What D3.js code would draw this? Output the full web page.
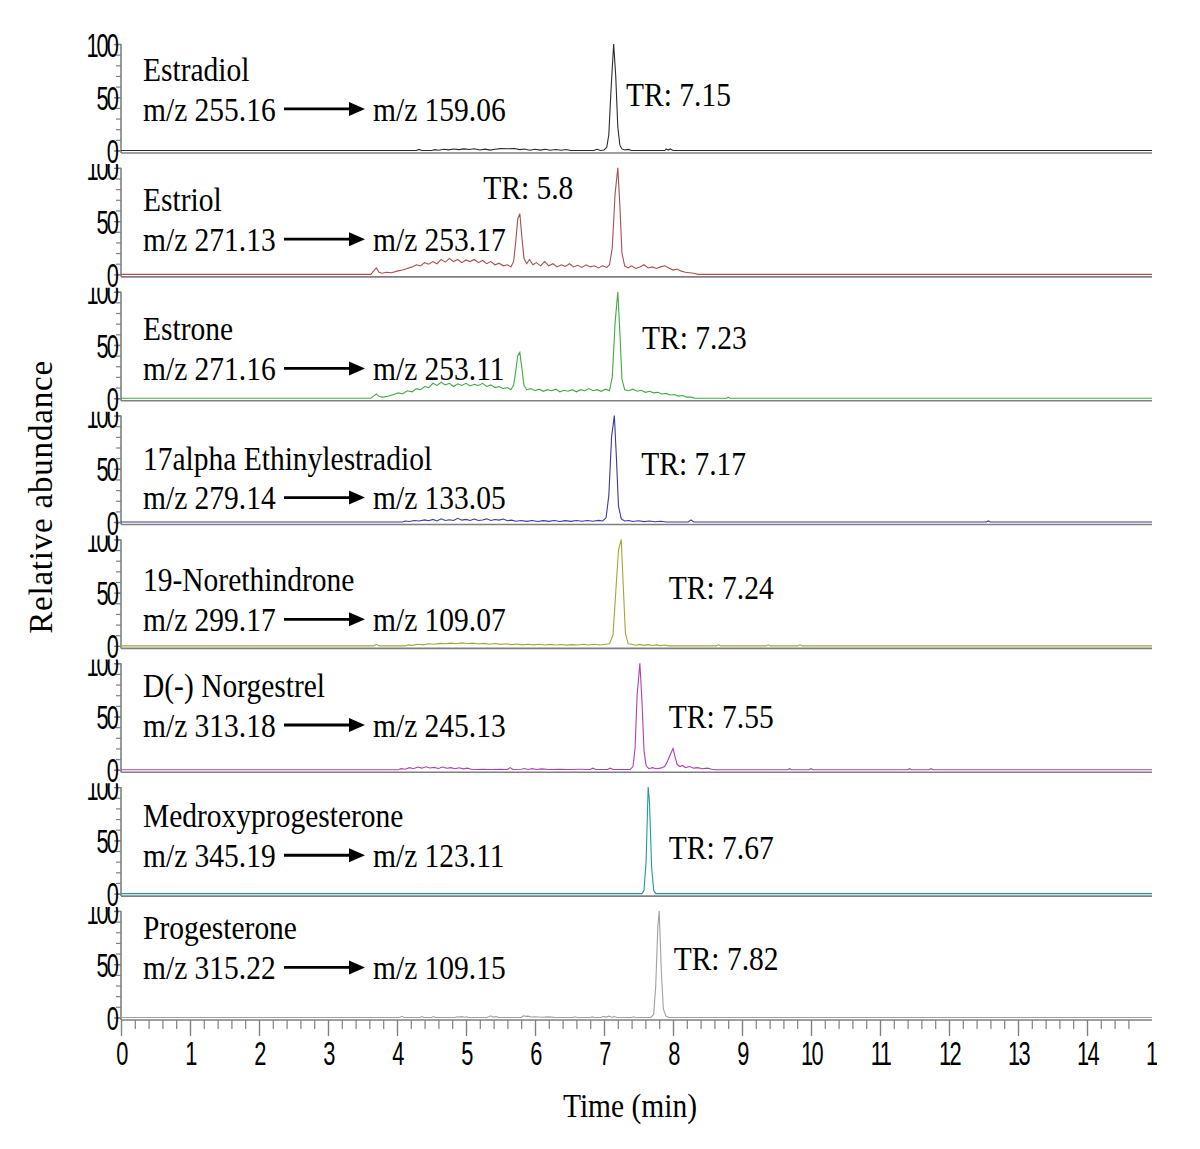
<!DOCTYPE html>
<html><head><meta charset="utf-8">
<script src="https://cdn.jsdelivr.net/npm/d3@7"></script>
<style>body{margin:0;background:#fff}</style>
</head><body>
<svg id="chart" width="1200" height="1149"></svg>
<script>
// ---------- data ----------
const compounds = ["Estradiol","Estriol","Estrone","17alpha Ethinylestradiol","19-Norethindrone","D(-) Norgestrel","Medroxyprogesterone","Progesterone"];
const precursorIons = ["m/z 255.16","m/z 271.13","m/z 271.16","m/z 279.14","m/z 299.17","m/z 313.18","m/z 345.19","m/z 315.22"];
const productIons = ["m/z 159.06","m/z 253.17","m/z 253.11","m/z 133.05","m/z 109.07","m/z 245.13","m/z 123.11","m/z 109.15"];
const retentionLabels = ["TR: 7.15","TR: 5.8","TR: 7.23","TR: 7.17","TR: 7.24","TR: 7.55","TR: 7.67","TR: 7.82"];
const xTickLabels = [0,1,2,3,4,5,6,7,8,9,10,11,12,13,14,15];
const yTickLabels = [0,50,100];

// traces: [time (min), relative abundance (%)]
const estradiolTrace = [[0,0],[4.28,0],[4.32,1],[4.36,0],[4.5,0],[4.55,0.8],[4.6,0.3],[4.68,1.2],[4.75,0.6],[4.82,1.4],[4.9,0.8],[4.97,1.5],[5.05,0.9],[5.12,1.6],[5.2,0.5],[5.28,1.3],[5.35,0.4],[5.42,1.1],[5.5,1.8],[5.6,1.6],[5.7,1.9],[5.78,0.8],[5.85,1.4],[5.92,0.3],[6.0,1.2],[6.08,0.4],[6.15,1.1],[6.22,0.2],[6.3,1.0],[6.38,0.3],[6.45,1.0],[6.52,0],[6.85,0],[6.9,1.2],[6.95,0],[7.0,0.5],[7.04,3],[7.07,15],[7.1,55],[7.14,100],[7.17,70],[7.2,22],[7.23,5],[7.26,1.5],[7.3,0.5],[7.35,1],[7.4,0],[7.88,0],[7.9,1.5],[7.93,0.4],[7.96,1.5],[8.0,0],[15,0]];
const estriolTrace = [[0,0],[3.62,0],[3.66,3],[3.7,6],[3.74,2],[3.78,1],[3.85,2],[3.92,1.5],[4.0,3],[4.08,4],[4.15,5.5],[4.22,7],[4.28,9],[4.34,8],[4.4,11],[4.46,9.5],[4.52,12],[4.58,10],[4.64,14],[4.7,11.5],[4.76,15],[4.82,12],[4.88,14],[4.94,11],[5.0,13.5],[5.06,12],[5.12,14],[5.18,11],[5.24,13],[5.3,10],[5.36,12],[5.42,9],[5.48,10.5],[5.54,8],[5.6,9],[5.65,7],[5.69,12],[5.72,30],[5.75,52],[5.78,57],[5.81,35],[5.84,15],[5.88,10],[5.92,14],[5.97,9],[6.02,11],[6.08,8],[6.14,12],[6.2,8],[6.26,10],[6.32,7],[6.38,9],[6.44,7.5],[6.5,10],[6.56,7],[6.62,8.5],[6.68,6.5],[6.74,9],[6.8,7],[6.86,8],[6.92,6],[6.98,8],[7.04,6.5],[7.08,9],[7.12,25],[7.16,75],[7.2,100],[7.23,65],[7.26,20],[7.3,8],[7.35,6],[7.4,8],[7.46,5.5],[7.52,7],[7.58,9],[7.64,6],[7.7,7],[7.76,5.5],[7.82,7],[7.88,8],[7.94,6],[8.0,4],[8.06,5],[8.12,3],[8.18,2],[8.24,1.5],[8.3,1],[8.36,0],[15,0]];
const estroneTrace = [[0,0],[3.62,0],[3.66,2],[3.7,4],[3.74,1.5],[3.8,1],[3.88,2],[3.95,3.5],[4.02,5],[4.08,4],[4.15,7],[4.22,6],[4.28,9],[4.34,8],[4.4,11],[4.46,10],[4.52,14],[4.58,12],[4.64,15],[4.7,12.5],[4.76,14],[4.82,11],[4.88,13.5],[4.94,12],[5.0,14],[5.06,11.5],[5.12,13],[5.18,12],[5.24,14],[5.3,11],[5.36,12.5],[5.42,10],[5.48,11],[5.54,9],[5.6,10],[5.65,8],[5.69,12],[5.72,25],[5.75,40],[5.78,43],[5.81,28],[5.84,12],[5.88,8],[5.94,9],[6.0,7],[6.06,8.5],[6.12,6.5],[6.18,8],[6.24,7],[6.3,8.5],[6.36,6],[6.42,7.5],[6.48,6.5],[6.54,8],[6.6,6],[6.66,8],[6.72,7],[6.78,9],[6.84,7],[6.9,8],[6.96,6.5],[7.02,8.5],[7.08,7],[7.12,20],[7.16,70],[7.2,100],[7.23,62],[7.26,18],[7.3,8],[7.36,7],[7.42,8.5],[7.48,6.5],[7.54,7.5],[7.6,5.5],[7.66,6.5],[7.72,5],[7.78,5.5],[7.84,4],[7.9,4.5],[7.96,3],[8.02,3.5],[8.08,2],[8.14,2.5],[8.2,1],[8.26,1],[8.32,0],[8.78,0],[8.8,1],[8.82,0],[15,0]];
const ethinylestradiolTrace = [[0,0],[4.08,0],[4.12,1],[4.18,0.5],[4.25,1.5],[4.32,1],[4.4,2],[4.46,1.2],[4.52,2.5],[4.58,1],[4.64,3],[4.7,1.5],[4.76,2.2],[4.82,1.5],[4.88,3.5],[4.94,1.8],[5.0,2.5],[5.06,1.5],[5.12,2.8],[5.18,1.4],[5.24,2],[5.3,3],[5.36,1.5],[5.42,2.4],[5.48,1.8],[5.54,2.8],[5.6,1.2],[5.66,1.8],[5.72,0.8],[5.8,1.5],[5.88,0.6],[5.96,1.4],[6.04,0.5],[6.12,1.3],[6.2,0.6],[6.28,1.4],[6.36,0.5],[6.44,1.3],[6.52,0.6],[6.6,1.4],[6.68,0.8],[6.76,1.5],[6.84,0.8],[6.92,1.6],[6.98,1],[7.03,4],[7.07,25],[7.11,80],[7.15,100],[7.18,60],[7.21,15],[7.25,3],[7.3,1],[7.36,1.5],[7.42,0.5],[7.5,1.2],[7.58,0.4],[7.66,1],[7.74,0.3],[7.82,0.8],[7.9,0],[8.22,0],[8.26,2],[8.3,0],[12.54,0],[12.57,1],[12.6,0],[15,0]];
const norethindroneTrace = [[0,0],[3.66,0],[3.7,1.5],[3.74,0],[4.12,0],[4.16,1],[4.22,0.5],[4.3,1.5],[4.38,1],[4.46,2],[4.54,1.6],[4.62,2.4],[4.7,2],[4.78,2.6],[4.86,2],[4.94,2.8],[5.02,2.2],[5.1,2.6],[5.18,1.8],[5.26,2.4],[5.34,1.6],[5.42,2.2],[5.5,1.4],[5.58,2],[5.66,1.2],[5.74,1.8],[5.82,1],[5.9,1.6],[5.98,1],[6.06,1.5],[6.14,0.8],[6.22,1.4],[6.3,0.8],[6.38,1.3],[6.46,0.7],[6.54,1.2],[6.62,0.8],[6.7,1.5],[6.78,0.9],[6.86,1.6],[6.94,0.8],[7.02,1.5],[7.08,2],[7.13,10],[7.17,50],[7.21,90],[7.25,100],[7.28,55],[7.31,12],[7.35,2],[7.4,1.5],[7.46,0.6],[7.52,1.4],[7.58,0.5],[7.64,1.2],[7.7,0.4],[7.76,1],[7.82,0.3],[7.88,0.8],[7.94,0],[8.63,0],[8.66,1.2],[8.69,0],[9.35,0],[9.38,1],[9.41,0],[9.81,0],[9.84,1],[9.87,0],[15,0]];
const norgestrelTrace = [[0,0],[4.02,0],[4.06,1],[4.12,0.5],[4.18,2],[4.24,1],[4.3,2.5],[4.36,1.5],[4.42,2.8],[4.48,1.6],[4.54,2.2],[4.6,1.2],[4.66,2.6],[4.72,1.4],[4.78,2],[4.84,1],[4.9,1.8],[4.96,0.8],[5.02,1.5],[5.08,0.5],[5.15,0.3],[5.25,0.5],[5.35,0.3],[5.5,0.4],[5.6,0.2],[5.64,2],[5.68,0.2],[5.8,0.4],[5.85,1.2],[5.9,0.3],[5.96,1],[6.02,0.2],[6.1,0.8],[6.2,0.3],[6.35,0.5],[6.5,0.3],[6.65,0.4],[6.8,0.3],[6.84,1.5],[6.88,0.3],[7.05,0.3],[7.09,1.5],[7.13,0.3],[7.38,0.3],[7.42,3],[7.45,20],[7.48,70],[7.52,100],[7.55,65],[7.58,18],[7.61,4],[7.65,1],[7.7,2],[7.76,1],[7.82,1.5],[7.88,3],[7.92,8],[7.96,14],[8.0,20],[8.03,12],[8.06,5],[8.1,3],[8.14,4],[8.18,2],[8.24,3],[8.3,1.5],[8.36,2],[8.42,1],[8.5,1.5],[8.56,0.5],[8.62,0],[9.66,0],[9.69,1],[9.72,0],[9.97,0],[10.0,1],[10.03,0],[11.4,0],[11.43,1],[11.46,0],[11.71,0],[11.74,1],[11.77,0],[15,0]];
const medroxyprogesteroneTrace = [[0,0],[7.55,0],[7.58,3],[7.61,30],[7.64,100],[7.66,85],[7.69,25],[7.72,3],[7.75,0],[15,0]];
const progesteroneTrace = [[0,0],[4.04,0],[4.07,1],[4.1,0],[4.33,0],[4.36,0.8],[4.39,0],[4.5,0],[4.53,0.8],[4.56,0],[4.84,0],[4.87,0.6],[4.9,0.3],[4.94,0.8],[4.98,0.2],[5.01,0.7],[5.04,0],[5.3,0],[5.33,0.6],[5.36,1.5],[5.39,0.3],[5.44,0.8],[5.47,0],[5.8,0],[5.83,1.6],[5.87,1],[5.9,1.2],[5.94,0.4],[6.0,0.6],[6.1,0.2],[6.2,0.5],[6.3,0],[6.55,0],[6.58,0.6],[6.61,0],[6.8,0],[6.83,0.5],[6.86,0],[6.96,0],[6.99,1],[7.03,0.3],[7.07,1.2],[7.11,0.2],[7.15,0.8],[7.19,0],[7.4,0],[7.43,0.6],[7.46,0],[7.68,0],[7.72,3],[7.75,30],[7.78,85],[7.8,100],[7.83,45],[7.86,8],[7.9,1],[7.94,0],[15,0]];
const traces = [estradiolTrace, estriolTrace, estroneTrace, ethinylestradiolTrace, norethindroneTrace, norgestrelTrace, medroxyprogesteroneTrace, progesteroneTrace];

// ---------- layout / style (kept apart from data) ----------
const traceColors = ["#2b2b2b","#a94f4f","#45a845","#3a3aa0","#a6a636","#b040b0","#1c9c9c","#a0a0a0"];
const titleLevel = [76,71,66,60,63,79,74,85];   // label centre, in panel % units
const ionLevel   = [39,33,28,23,25,42,36,47];
const trTime     = [7.32,5.25,7.55,7.54,7.94,7.94,7.94,8.01];
const trLevel    = [53,82,57,55,55,50,44,56];

const W = 1200, H = 1149;
const svg = d3.select("#chart");
const x = d3.scaleLinear().domain([0, 15]).range([121, 1156]);
const firstBase = 152, step = 123.85, panelH = 108;
const axisColor = "#808080";
const serif = "'Liberation Serif','Times New Roman',serif";
const sans = "'Liberation Sans',Arial,sans-serif";
const xEnd = 1152;
const tickFont = 28, sx = 0.78, sy = 1.2;

const defs = svg.append("defs");
defs.append("clipPath").attr("id","plotClip").append("rect")
  .attr("x",121).attr("y",0).attr("width",xEnd-121).attr("height",H);
defs.append("clipPath").attr("id","figClip").append("rect")
  .attr("x",0).attr("y",0).attr("width",1157).attr("height",H);

const root = svg.append("g").attr("clip-path","url(#figClip)");

function stretchedText(g, str, px, py, size, anchor) {
  return g.append("text")
    .attr("transform", `translate(${px},${py}) scale(1,1.17)`)
    .attr("dominant-baseline","central")
    .attr("text-anchor", anchor || "start")
    .style("font-family", serif).style("font-size", size + "px")
    .attr("fill","#000").text(str);
}

traces.forEach((tr, i) => {
  const B = firstBase + i * step;
  const y = d3.scaleLinear().domain([0, 100]).range([B - 1.5, B - panelH]);
  const g = root.append("g");

  // label clip so the "100" label is partly hidden by the panel above
  const clipId = "lab" + i;
  const top = i === 0 ? 0 : (B - step + 12);
  defs.append("clipPath").attr("id", clipId).append("rect")
    .attr("x", 0).attr("width", 125)
    .attr("y", top).attr("height", B + 20 - top);

  // baseline axis line
  g.append("line").attr("x1", 121).attr("x2", xEnd).attr("y1", B + 1).attr("y2", B + 1)
    .attr("stroke", axisColor).attr("stroke-width", 1.6);

  // y axis minor
  const yMinor = d3.axisLeft(y).tickValues(d3.range(0, 101, 10)).tickSize(5).tickSizeOuter(0).tickFormat("");
  const gm = g.append("g").attr("transform", "translate(121,0)").call(yMinor);
  gm.select(".domain").remove();
  gm.selectAll("line").attr("stroke", axisColor).attr("stroke-width", 1.2);
  // y axis major (wrapped in an untransformed group that carries the clip)
  const wrap = g.append("g").attr("clip-path", `url(#${clipId})`);
  const yMajor = d3.axisLeft(y).tickValues(yTickLabels).tickSize(7).tickSizeOuter(0).tickPadding(0);
  const gM = wrap.append("g").attr("transform", "translate(121,0)").call(yMajor);
  gM.select(".domain").remove();
  gM.selectAll("line").attr("stroke", axisColor).attr("stroke-width", 1.4);
  gM.selectAll("text")
    .attr("x", -4 / sx).attr("dy", "0.36em")
    .attr("transform", `scale(${sx},${sy})`)
    .style("font-family", sans).style("font-size", tickFont + "px").style("letter-spacing", "-2.5px")
    .attr("fill", "#000");
  // y axis vertical line
  g.append("line").attr("x1", 121).attr("x2", 121).attr("y1", B + 1).attr("y2", B - panelH)
    .attr("stroke", axisColor).attr("stroke-width", 1.6);

  // trace
  const line = d3.line().x(d => x(d[0])).y(d => y(d[1]));
  g.append("path").datum(tr).attr("d", line)
    .attr("fill", "none").attr("stroke", traceColors[i]).attr("stroke-width", 1.1)
    .attr("clip-path", "url(#plotClip)");

  // annotations
  stretchedText(g, compounds[i], 143, y(titleLevel[i]), 29.5);
  const iy = y(ionLevel[i]);
  stretchedText(g, precursorIons[i], 143, iy, 29.5);
  g.append("line").attr("x1", 284).attr("x2", 352).attr("y1", iy).attr("y2", iy)
    .attr("stroke", "#000").attr("stroke-width", 2.8);
  g.append("path").attr("d", `M349,${iy - 7}L365,${iy}L349,${iy + 7}Z`).attr("fill", "#000");
  stretchedText(g, productIons[i], 373, iy, 29.5);
  stretchedText(g, retentionLabels[i], x(trTime[i]), y(trLevel[i]), 29.5);

  // bottom time axis on last panel
  if (i === traces.length - 1) {
    const minorVals = d3.range(0, 74).map(k => k * 0.2).filter(v => Math.abs(v - Math.round(v)) > 1e-6);
    const xMinor = d3.axisBottom(x).tickValues(minorVals).tickSize(9).tickSizeOuter(0).tickFormat("");
    const gx = g.append("g").attr("transform", `translate(0,${B + 1})`).call(xMinor);
    gx.select(".domain").remove();
    gx.selectAll("line").attr("stroke", axisColor).attr("stroke-width", 1.2);
    const xMajor = d3.axisBottom(x).tickValues(xTickLabels).tickSize(16).tickSizeOuter(0).tickPadding(0);
    const gX = g.append("g").attr("transform", `translate(0,${B + 1})`).call(xMajor);
    gX.select(".domain").remove();
    gX.selectAll("line").attr("stroke", axisColor).attr("stroke-width", 1.4)
      .attr("opacity", d => d >= 15 ? 0 : 1);
    gX.selectAll("text")
      .attr("y", 33 / sy).attr("dy", "0.36em")
      .attr("transform", `scale(${sx},${sy})`)
      .attr("x", 0)
      .style("font-family", sans).style("font-size", tickFont + "px").style("letter-spacing", "-2px")
      .attr("fill", "#000");
  }
});

// axis titles
root.append("text")
  .attr("transform", `translate(630,1105) scale(1,1.17)`)
  .attr("dominant-baseline","central").attr("text-anchor","middle")
  .style("font-family", serif).style("font-size","29.5px").text("Time (min)");
root.append("text")
  .attr("transform", `translate(41,497) rotate(-90)`)
  .attr("dominant-baseline","central").attr("text-anchor","middle")
  .style("font-family", serif).style("font-size","33px").style("letter-spacing","0.8px")
  .text("Relative abundance");
</script>
</body></html>
